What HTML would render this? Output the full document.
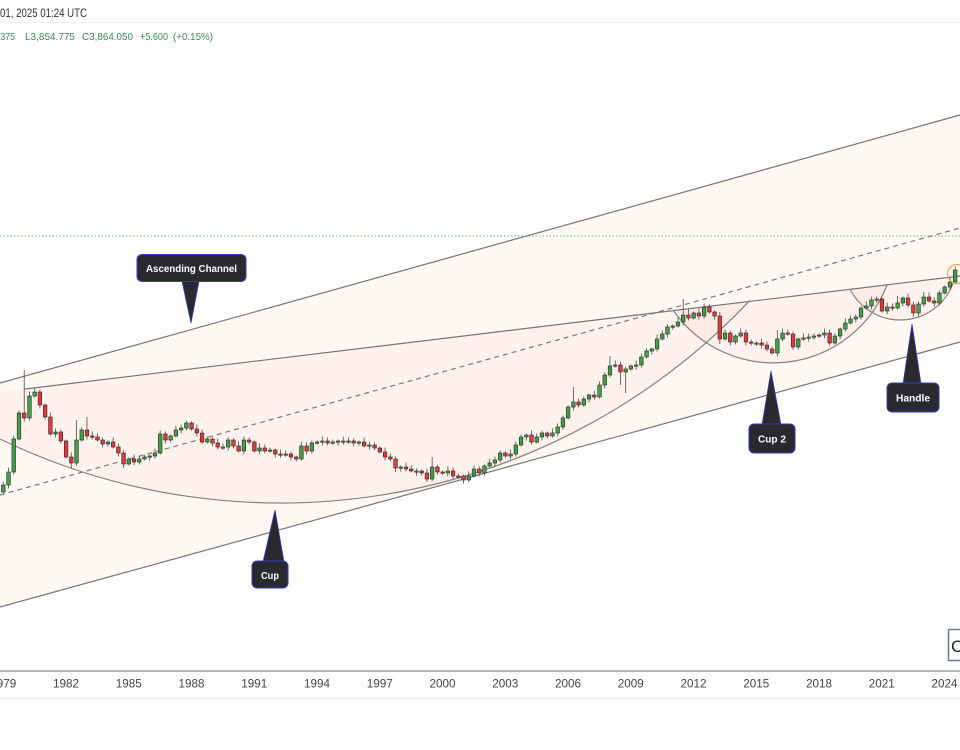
<!DOCTYPE html>
<html>
<head>
<meta charset="utf-8">
<style>
html,body{margin:0;padding:0;background:#fff;}
body{width:960px;height:750px;overflow:hidden;}
svg{display:block;}
text{font-family:"Liberation Sans",Arial,sans-serif;}
</style>
</head>
<body>
<svg id="chart" width="960" height="750" viewBox="0 0 960 750" xmlns="http://www.w3.org/2000/svg">
  <rect x="0" y="0" width="960" height="750" fill="#ffffff"/>

  <!-- header -->
  <text x="0" y="17" font-size="11.5" fill="#333" textLength="87" lengthAdjust="spacingAndGlyphs">01, 2025 01:24 UTC</text>
  <line x1="0" y1="22.5" x2="960" y2="22.5" stroke="#eeeeee" stroke-width="1"/>
  <g font-size="10.5" fill="#3b8a4c">
    <text x="-2" y="40" textLength="17" lengthAdjust="spacingAndGlyphs">.375</text>
    <text x="25" y="40" textLength="50" lengthAdjust="spacingAndGlyphs">L3,854.775</text>
    <text x="82" y="40" textLength="51" lengthAdjust="spacingAndGlyphs">C3,864.050</text>
    <text x="140" y="40" textLength="28" lengthAdjust="spacingAndGlyphs">+5.600</text>
    <text x="173" y="40" textLength="40" lengthAdjust="spacingAndGlyphs">(+0.15%)</text>
  </g>

  <!-- channel fill -->
  <polygon points="0,383 960,115 960,342 0,607" fill="#fff8f3"/>

  <!-- cup fills -->
  <path d="M0,439 A645.6,645.6 0 0 0 750,300.3 L0,392 Z" fill="rgba(242,54,69,0.035)"/>
  <path d="M673,310 A121.8,121.8 0 0 0 887,285 Z" fill="rgba(242,54,69,0.035)"/>
  <path d="M850,289 A56.3,56.3 0 0 0 955,277 Z" fill="rgba(242,54,69,0.035)"/>

  <!-- green dotted horizontal -->
  <line x1="0" y1="236" x2="960" y2="236" stroke="#66bb6a" stroke-width="1" stroke-dasharray="1.5,2"/>

  <!-- channel lines -->
  <line x1="0" y1="383" x2="960" y2="115" stroke="#767676" stroke-width="1.2"/>
  <line x1="0" y1="607" x2="960" y2="342" stroke="#767676" stroke-width="1.2"/>
  <line x1="0" y1="495" x2="960" y2="228" stroke="#7a7a7a" stroke-width="1.2" stroke-dasharray="5,4"/>

  <!-- rim line -->
  <line x1="25" y1="389" x2="960" y2="276" stroke="#767676" stroke-width="1.2"/>

  <!-- arcs -->
  <path d="M0,439 A645.6,645.6 0 0 0 750,300.3" fill="none" stroke="#8a8080" stroke-width="1.2"/>
  <path d="M673,310 A121.8,121.8 0 0 0 887,285" fill="none" stroke="#8a8080" stroke-width="1.2"/>
  <path d="M850,289 A56.3,56.3 0 0 0 955,277" fill="none" stroke="#8a8080" stroke-width="1.2"/>

  <g id="candles"></g>

  <!-- orange circle -->
  <circle cx="957" cy="274" r="9.5" fill="none" stroke="#f5a84a" stroke-width="1.2"/>

  <!-- callouts -->
  <g>
    <polygon points="182,281 199,281 191,323" fill="#2a2a2e" stroke="#3a3ac0" stroke-width="0.8"/>
    <rect x="137" y="254.5" width="109" height="27" rx="5" fill="#2a2a2e" stroke="#3a3ac0" stroke-width="1"/>
    <text x="191.5" y="272" font-size="10" font-weight="bold" fill="#ffffff" text-anchor="middle" textLength="91" lengthAdjust="spacingAndGlyphs">Ascending Channel</text>

    <polygon points="263,562 284,562 275,510" fill="#2a2a2e" stroke="#3a3ac0" stroke-width="0.8"/>
    <rect x="252" y="561" width="36" height="27" rx="5" fill="#2a2a2e" stroke="#3a3ac0" stroke-width="1"/>
    <text x="270" y="579" font-size="10" font-weight="bold" fill="#ffffff" text-anchor="middle" textLength="18" lengthAdjust="spacingAndGlyphs">Cup</text>

    <polygon points="762,425 781,425 771,371" fill="#2a2a2e" stroke="#3a3ac0" stroke-width="0.8"/>
    <rect x="749" y="424" width="46" height="29" rx="5" fill="#2a2a2e" stroke="#3a3ac0" stroke-width="1"/>
    <text x="772" y="442.5" font-size="10" font-weight="bold" fill="#ffffff" text-anchor="middle" textLength="28" lengthAdjust="spacingAndGlyphs">Cup 2</text>

    <polygon points="903,384 921,384 912,324" fill="#2a2a2e" stroke="#3a3ac0" stroke-width="0.8"/>
    <rect x="887" y="383" width="52" height="29" rx="5" fill="#2a2a2e" stroke="#3a3ac0" stroke-width="1"/>
    <text x="913" y="401.5" font-size="10" font-weight="bold" fill="#ffffff" text-anchor="middle" textLength="34" lengthAdjust="spacingAndGlyphs">Handle</text>
  </g>

  <!-- bottom-right box -->
  <rect x="948.5" y="629.5" width="20" height="31" fill="#ffffff" stroke="#6a7b8c" stroke-width="1.5"/>
  <text x="951" y="652" font-size="17" fill="#222">C</text>

  <!-- time axis -->
  <line x1="0" y1="671" x2="960" y2="671" stroke="#a0a0a0" stroke-width="1.6"/>
  <line x1="0" y1="698.5" x2="960" y2="698.5" stroke="#f2f2f2" stroke-width="1"/>
  <g id="axis" font-size="12" fill="#444"></g>
</svg>

<script>
(function(){
  var NS="http://www.w3.org/2000/svg";
  var C=[485,472,439,413,418,396,392,405,417,434,432,441,457,463,440,430,436,437,440,444,
  442,447,453,464,459,462,459,457,456,453,434,440,436,430,428,423,429,433,442,439,
  443,447,447,440,446,451,440,442,451,448,451,450,454,455,454,457,459,446,451,443,
  442,441,443,442,441,442,441,443,442,446,445,448,452,457,459,468,467,469,471,471,
  473,479,467,472,473,471,476,476,480,476,469,473,466,463,460,453,456,454,445,437,
  435,442,437,433,436,433,427,418,407,402,405,399,395,397,385,375,366,365,372,369,
  366,365,357,351,349,339,334,327,326,322,315,318,313,316,307,312,316,339,333,342,
  336,333,342,343,343,345,349,353,339,333,334,347,339,338,337,336,335,333,343,336,
  329,323,319,317,308,306,300,299,311,307,308,303,298,305,313,304,297,301,303,293,
  287,282,270];
  var hiO={4:370,14:420,16:417,82:457,83:465,109:387,116:356,130:299,131:309,137:312,148:330,171:296,176:292,0:482};
  var loO={118:385,119:393,82:481,23:468,13:468,75:472,81:482,137:344,151:350,174:317};
  var g=document.getElementById("candles");
  var o=492;
  for(var i=0;i<C.length;i++){
    var c=C[i], x=3.3+5.23*i;
    var top=Math.min(o,c), bot=Math.max(o,c);
    if(bot-top<1.2){bot=top+1.2;}
    var hi=(hiO[i]!==undefined)?hiO[i]:top-(1.5+(i*7)%4);
    var lo=(loO[i]!==undefined)?loO[i]:bot+(1.5+(i*5)%3);
    var up=c<o || (c===o && i%2===0);
    var w=document.createElementNS(NS,"line");
    w.setAttribute("x1",x);w.setAttribute("x2",x);
    w.setAttribute("y1",hi);w.setAttribute("y2",lo);
    w.setAttribute("stroke","#4a4a4a");w.setAttribute("stroke-width","0.8");
    g.appendChild(w);
    var r=document.createElementNS(NS,"rect");
    r.setAttribute("x",x-1.8);r.setAttribute("y",top);
    r.setAttribute("width",3.6);r.setAttribute("height",bot-top);
    r.setAttribute("fill",up?"#43a047":"#e53940");
    r.setAttribute("stroke","#262626");r.setAttribute("stroke-width","0.6");
    g.appendChild(r);
    o=c;
  }
  var ax=document.getElementById("axis");
  for(var k=0;k<16;k++){
    var t=document.createElementNS(NS,"text");
    t.setAttribute("x",3.3+62.75*k);
    t.setAttribute("y",687.5);
    t.setAttribute("text-anchor","middle");
    t.setAttribute("textLength","26");
    t.setAttribute("lengthAdjust","spacingAndGlyphs");
    t.textContent=String(1979+3*k);
    ax.appendChild(t);
  }
})();
</script>
</body>
</html>
